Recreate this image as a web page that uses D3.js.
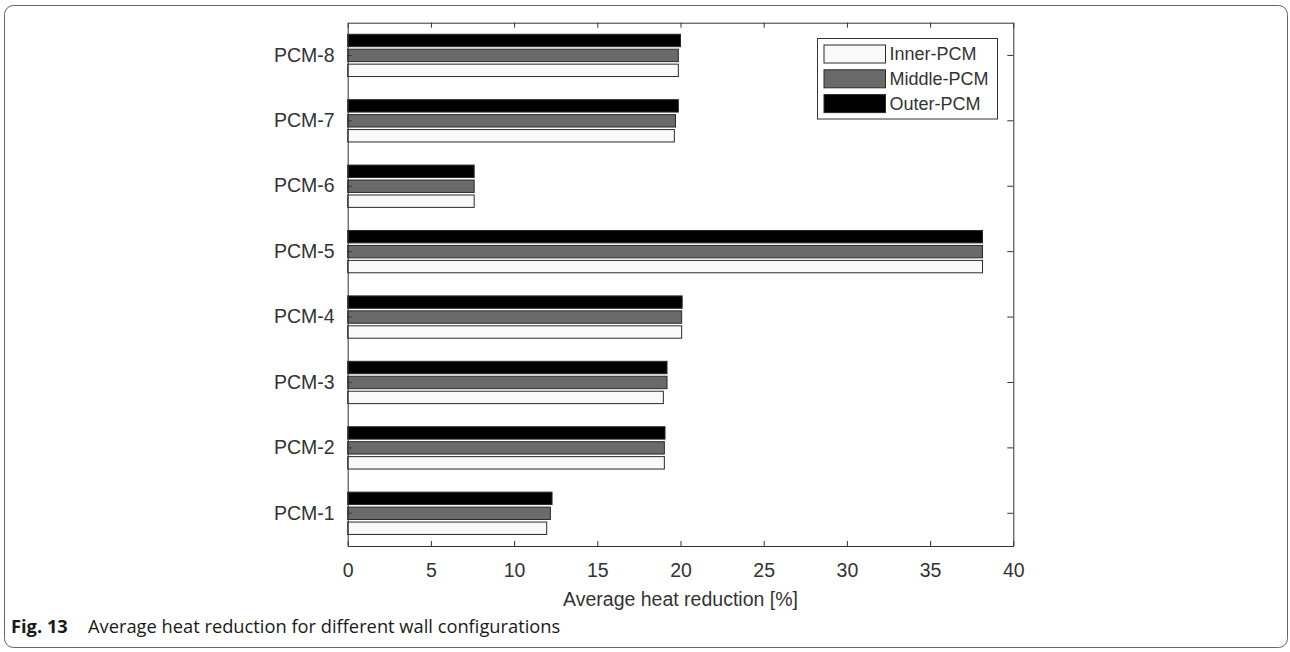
<!DOCTYPE html>
<html>
<head>
<meta charset="utf-8">
<script src="https://cdn.jsdelivr.net/npm/d3@7"></script>
<style>
  body { margin: 0; background: #fff; }
  svg text { fill: #333; }
</style>
</head>
<body>
<div id="grafico"></div>
<script>
// Datos: reduccion media de calor por configuracion de muro
const categorias = ["PCM-1", "PCM-2", "PCM-3", "PCM-4", "PCM-5", "PCM-6", "PCM-7", "PCM-8"];
const series = ["Inner-PCM", "Middle-PCM", "Outer-PCM"];
const innerPCM  = [11.96, 19.03, 18.97, 20.07, 38.15, 7.6, 19.63, 19.87];
const middlePCM = [12.18, 19.03, 19.19, 20.07, 38.15, 7.6, 19.70, 19.87];
const outerPCM  = [12.28, 19.07, 19.19, 20.10, 38.15, 7.6, 19.87, 20.0];
const ticksX = [0, 5, 10, 15, 20, 25, 30, 35, 40];
const colores = { "Inner-PCM": "#f9f9f9", "Middle-PCM": "#6a6a6a", "Outer-PCM": "#000" };

const WIDTH = 1290, HEIGHT = 652;
const margen = { left: 347.7, right: 1013.3, top: 22.7, bottom: 546 };

var datos = [];
categorias.forEach(function (c, i) {
    datos.push({ cat: c, serie: "Inner-PCM", valor: innerPCM[i] });
    datos.push({ cat: c, serie: "Middle-PCM", valor: middlePCM[i] });
    datos.push({ cat: c, serie: "Outer-PCM", valor: outerPCM[i] });
});

var svg = d3.select("#grafico").append("svg")
    .attr("width", WIDTH)
    .attr("height", HEIGHT)
    .style("font-family", "'Liberation Sans', Arial, sans-serif");

// marco de la figura
svg.append("rect")
    .attr("x", 4.5).attr("y", 5.5)
    .attr("width", 1283).attr("height", 642)
    .attr("rx", 9)
    .attr("fill", "none")
    .attr("stroke", "#666")
    .attr("stroke-width", 1);

var x = d3.scaleLinear().domain([0, 40]).range([margen.left, margen.right]);

// grupos por categoria, PCM-8 arriba
var y = d3.scaleBand()
    .domain(categorias.slice().reverse())
    .range([margen.top, margen.bottom])
    .paddingInner(0.335)
    .paddingOuter(0.1675);

var ySerie = d3.scaleBand()
    .domain(["Outer-PCM", "Middle-PCM", "Inner-PCM"])
    .range([0, y.bandwidth()])
    .paddingInner(0.17)
    .paddingOuter(0.04);

svg.append("g")
    .selectAll("rect")
    .data(datos)
    .enter()
    .append("rect")
    .attr("x", x(0))
    .attr("y", d => y(d.cat) + ySerie(d.serie))
    .attr("width", d => x(d.valor) - x(0))
    .attr("height", ySerie.bandwidth())
    .attr("fill", d => colores[d.serie])
    .attr("stroke", "#2a2a2a")
    .attr("stroke-width", 1);

// ejes: caja completa con marcas hacia dentro
var ejeAbajo = svg.append("g")
    .attr("transform", "translate(0," + margen.bottom + ")")
    .call(d3.axisBottom(x).tickValues(ticksX).tickSize(-5).tickSizeOuter(0).tickPadding(17));
ejeAbajo.selectAll("text").style("font-size", "19.5px");

svg.append("g")
    .attr("transform", "translate(0," + margen.top + ")")
    .call(d3.axisTop(x).tickValues(ticksX).tickSize(-5).tickSizeOuter(0).tickFormat(""));

var ejeIzq = svg.append("g")
    .attr("transform", "translate(" + margen.left + ",0)")
    .call(d3.axisLeft(y).tickSize(-4).tickSizeOuter(0).tickPadding(13));
ejeIzq.selectAll("text").style("font-size", "19.5px");

svg.append("g")
    .attr("transform", "translate(" + margen.right + ",0)")
    .call(d3.axisRight(y).tickSize(-6).tickSizeOuter(0).tickFormat(""));

svg.selectAll(".domain, .tick line").attr("stroke", "#333");

// titulo del eje x
svg.append("text")
    .attr("x", (margen.left + margen.right) / 2)
    .attr("y", 606)
    .attr("text-anchor", "middle")
    .style("font-size", "19.5px")
    .text("Average heat reduction [%]");

// leyenda
var leyenda = svg.append("g").attr("transform", "translate(817.5,38.5)");
leyenda.append("rect")
    .attr("width", 180).attr("height", 80.5)
    .attr("fill", "#fff")
    .attr("stroke", "#333");
series.forEach(function (s, i) {
    leyenda.append("rect")
        .attr("x", 6.5).attr("y", 6.5 + i * 24.8)
        .attr("width", 61.5).attr("height", 18)
        .attr("fill", colores[s])
        .attr("stroke", "#2a2a2a");
    leyenda.append("text")
        .attr("x", 72).attr("y", 15.5 + i * 24.8)
        .attr("dy", "0.35em")
        .style("font-size", "18px")
        .text(s);
});

// pie de figura
var pie = svg.append("text")
    .attr("x", 11)
    .attr("y", 633)
    .style("font-family", "'Open Sans', 'Noto Sans', sans-serif")
    .style("font-size", "18.3px");
pie.append("tspan").style("font-weight", "bold").style("fill", "#1a1a1a").text("Fig. 13");
pie.append("tspan").attr("x", 88).style("fill", "#1a1a1a").text("Average heat reduction for different wall configurations");
</script>
</body>
</html>
